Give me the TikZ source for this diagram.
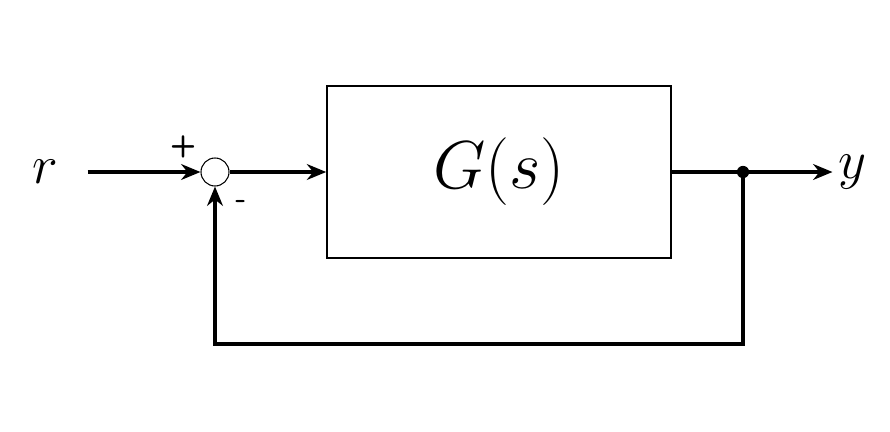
\documentclass[tikz,border=0pt]{standalone}
\usepackage{graphicx}
\usetikzlibrary{arrows.meta,positioning}
\tikzset{
  sig/.style={line width=1.8pt, -{Stealth[length=11pt,width=9pt]}},
  wire/.style={line width=1.8pt},
  plant/.style={draw, line width=0.9pt, minimum width=6.88cm, minimum height=3.44cm},
  sumnode/.style={draw, circle, line width=0.6pt, minimum size=0.56cm, inner sep=0pt},
  sgn/.style={font=\sffamily\bfseries\LARGE}
}
\begin{document}
\begin{tikzpicture}
  \useasboundingbox (0,0) rectangle (17.8,8.62);
  % signals
  \node (r) at (0.9,5.18) {\scalebox{1.25}{\Huge$r$}};
  \node[sumnode] (sum) at (4.3,5.18) {};
  \node[plant] (G) at (9.98,5.18) {\scalebox{1.55}{\Huge$G(s)$}};
  \node (y) at (17.05,5.18) {\scalebox{1.25}{\Huge$y$}};
  \coordinate (split) at (14.86,5.18);
  \coordinate (fb) at (14.86,1.74);
  \node[sgn] at (3.66,5.68) {+};
  \node[sgn] at (4.82,4.54) {-};

  \draw[sig] (1.75,5.18) -- (sum);
  \draw[sig] (sum) -- (G);
  \draw[wire] (G) -- (split);
  \draw[sig] (split) -- (16.65,5.18);
  \fill (split) circle (3.5pt);
  \draw[sig] (split) -- (fb) -| (sum);
\end{tikzpicture}
\end{document}
